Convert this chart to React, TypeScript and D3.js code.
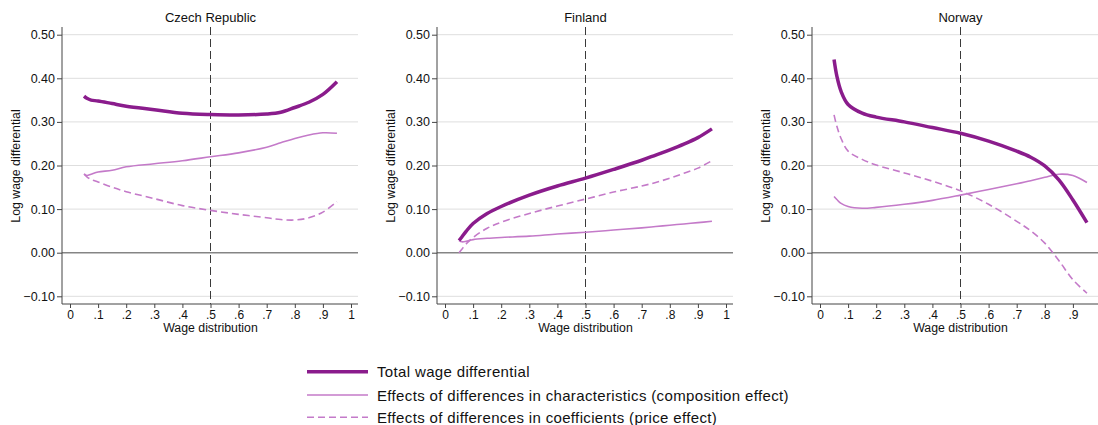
// import d3 and the react hooks
import * as d3 from "d3";
import { useRef, useEffect } from "react";

// quantiles of the wage distribution where the curves are read
const quantiles = [0.05, 0.06, 0.075, 0.1, 0.15, 0.2, 0.3, 0.4, 0.5, 0.6, 0.7, 0.75, 0.8, 0.85, 0.9, 0.95];

// Czech Republic
const czTotal = [0.359, 0.354, 0.350, 0.348, 0.342, 0.336, 0.328, 0.320, 0.317, 0.316, 0.318, 0.322, 0.333, 0.345, 0.363, 0.392];
const czComposition = [0.181, 0.177, 0.180, 0.185, 0.189, 0.197, 0.204, 0.211, 0.220, 0.229, 0.242, 0.252, 0.262, 0.270, 0.275, 0.274];
const czPrice = [0.180, 0.174, 0.168, 0.162, 0.150, 0.140, 0.124, 0.108, 0.097, 0.088, 0.080, 0.076, 0.075, 0.080, 0.093, 0.117];

// Finland
const fiTotal = [0.028, 0.036, 0.049, 0.067, 0.090, 0.106, 0.132, 0.153, 0.171, 0.191, 0.212, 0.224, 0.236, 0.249, 0.264, 0.284];
const fiComposition = [0.028, 0.025, 0.026, 0.030, 0.033, 0.035, 0.038, 0.043, 0.047, 0.052, 0.057, 0.060, 0.063, 0.066, 0.069, 0.072];
const fiPrice = [0.000, 0.008, 0.020, 0.035, 0.056, 0.070, 0.090, 0.107, 0.123, 0.139, 0.153, 0.161, 0.171, 0.182, 0.194, 0.211];

// Norway
const noTotal = [0.443, 0.405, 0.370, 0.340, 0.320, 0.311, 0.300, 0.287, 0.274, 0.256, 0.233, 0.219, 0.199, 0.167, 0.121, 0.069];
const noComposition = [0.129, 0.122, 0.113, 0.106, 0.102, 0.104, 0.111, 0.120, 0.132, 0.145, 0.158, 0.165, 0.173, 0.180, 0.177, 0.161];
const noPrice = [0.316, 0.290, 0.262, 0.233, 0.214, 0.201, 0.183, 0.164, 0.142, 0.111, 0.072, 0.050, 0.022, -0.018, -0.062, -0.093];

// panel titles and axis ticks
const countries = ["Czech Republic", "Finland", "Norway"];
const yTicks = [-0.1, 0, 0.1, 0.2, 0.3, 0.4, 0.5];
const xTicks = [0, 0.1, 0.2, 0.3, 0.4, 0.5, 0.6, 0.7, 0.8, 0.9, 1];
const legendLabels = [
  "Total wage differential",
  "Effects of differences in characteristics (composition effect)",
  "Effects of differences in coefficients (price effect)",
];

const dark = "#8a1c8c";
const light = "#c47ac9";
const font = "Liberation Sans, Arial, sans-serif";

export default function App() {
  const svgRef = useRef<SVGSVGElement>(null);

  useEffect(() => {
    const svg = d3.select(svgRef.current);
    svg.selectAll("*").remove();

    const series = [
      [czTotal, czComposition, czPrice],
      [fiTotal, fiComposition, fiPrice],
      [noTotal, noComposition, noPrice],
    ];

    // style of each series: total, composition, price
    const styles = [
      { color: dark, width: 3.5, dash: null },
      { color: light, width: 1.6, dash: null },
      { color: light, width: 1.6, dash: "7,4" },
    ];

    const y = d3.scaleLinear().domain([-0.1, 0.5]).range([296.3, 34.7]);
    const top = 27;
    const bottom = 304;

    countries.forEach((name, i) => {
      const off = i * 375;
      const left = 62 + off;
      const right = 358 + off;
      const x = d3.scaleLinear().domain([0, 1]).range([70 + off, 351 + off]);

      const g = svg.append("g");

      // horizontal grid lines
      g.selectAll("line.grid").data(yTicks.filter(t => t !== 0)).enter().append("line")
        .attr("x1", left).attr("x2", right)
        .attr("y1", d => y(d)).attr("y2", d => y(d))
        .attr("stroke", "#dedede").attr("stroke-width", 1);

      // zero line
      g.append("line").attr("x1", left).attr("x2", right).attr("y1", y(0)).attr("y2", y(0))
        .attr("stroke", "#858585").attr("stroke-width", 1.5);

      // vertical dashed line at the median
      g.append("line").attr("x1", x(0.5)).attr("x2", x(0.5)).attr("y1", top).attr("y2", bottom)
        .attr("stroke", "#3a3a3a").attr("stroke-width", 1).attr("stroke-dasharray", "8,4");

      // y axis
      g.append("g").attr("transform", `translate(${left},0)`)
        .call(d3.axisLeft(y).tickValues(yTicks).tickFormat(d3.format(".2f")).tickSize(5).tickSizeOuter(0))
        .call(a => a.select(".domain").attr("stroke", "#444").attr("d", `M0,${top}V${bottom}`))
        .call(a => a.selectAll(".tick line").attr("stroke", "#444"))
        .call(a => a.selectAll("text").attr("fill", "#111").style("font-size", "12.5px").style("font-family", font).attr("x", -7));

      // x axis
      g.append("g").attr("transform", `translate(0,${bottom})`)
        .call(d3.axisBottom(x).tickValues(xTicks).tickFormat(d => d === 0 ? "0" : d === 1 ? "1" : d3.format(".1f")(d as number).replace(/^0/, "")).tickSize(4).tickSizeOuter(0))
        .call(a => a.select(".domain").attr("stroke", "#444").attr("d", `M${left},0H${right}`))
        .call(a => a.selectAll(".tick line").attr("stroke", "#444"))
        .call(a => a.selectAll("text").attr("fill", "#111").style("font-size", "12px").style("font-family", font).attr("y", 6));

      // panel title
      g.append("text").attr("x", x(0.5)).attr("y", 21.5).attr("text-anchor", "middle")
        .style("font-size", "13px").style("font-family", font).attr("fill", "#111").text(name);

      // x axis label
      g.append("text").attr("x", x(0.5)).attr("y", 332).attr("text-anchor", "middle")
        .style("font-size", "12.3px").style("font-family", font).attr("fill", "#111").text("Wage distribution");

      // y axis label
      g.append("text").attr("transform", `rotate(-90)`).attr("x", -166).attr("y", 20 + off).attr("text-anchor", "middle")
        .style("font-size", "12.3px").style("font-family", font).attr("fill", "#111").text("Log wage differential");

      // curves: draw lighter ones first, total on top
      const line = d3.line<number>().x((_, k) => x(quantiles[k])).y(d => y(d)).curve(d3.curveCatmullRom.alpha(0.5));
      [2, 1, 0].forEach(s => {
        g.append("path").attr("d", line(series[i][s])).attr("fill", "none")
          .attr("stroke", styles[s].color).attr("stroke-width", styles[s].width)
          .attr("stroke-dasharray", styles[s].dash).attr("stroke-linejoin", "round");
      });
    });

    // legend below the panels
    const legend = svg.append("g");
    const rows = [371.7, 395, 417.3];
    legendLabels.forEach((label, k) => {
      legend.append("line").attr("x1", 307).attr("x2", 368).attr("y1", rows[k]).attr("y2", rows[k])
        .attr("stroke", styles[k].color).attr("stroke-width", styles[k].width).attr("stroke-dasharray", styles[k].dash);
      legend.append("text").attr("x", 377).attr("y", rows[k] + 5.5).style("font-size", "15px")
        .style("letter-spacing", "0.35px").style("font-family", font).attr("fill", "#111").text(label);
    });
  }, []);

  return (
    <svg ref={svgRef} width={1098} height={425}
      style={{ position: "absolute", left: 0, top: 0, background: "#fff" }} />
  );
}
